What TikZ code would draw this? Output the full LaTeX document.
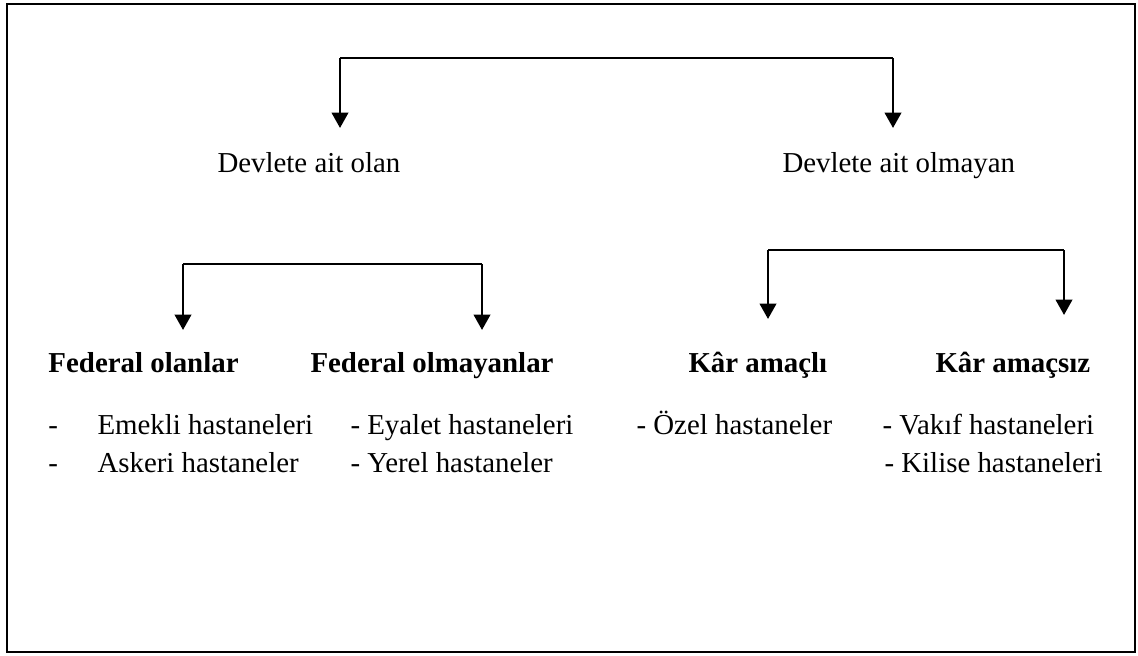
\documentclass[tikz,border=0pt]{standalone}
\usepackage{fontspec}
\setmainfont{Liberation Serif}
\usetikzlibrary{arrows.meta,positioning}

\begin{document}
\begin{tikzpicture}[x=0.4pt,y=-0.4pt,
  every node/.style={inner sep=0pt,anchor=base west,font=\fontsize{11.55}{14}\selectfont},
  head/.style={font=\fontsize{11.55}{14}\selectfont\bfseries},
  bar/.style={line width=0.6pt},
  down/.style={-{Triangle[width=6.6pt,length=6.2pt]},line width=1.1pt}]

\useasboundingbox (0,0) rectangle (1138,655);

% outer frame
\draw[line width=1pt] (7,4) rectangle (1135,652);

% the three splits: name / left x / right x / bar y / left tip y / right tip y
\foreach \nm/\xa/\xb/\y/\ya/\yb in {top/340/893/58/128/128,
                                   fed/183/482/264/330/330,
                                   kar/768/1064/250/319/315}
{
  \coordinate (\nm-a) at (\xa,\y);
  \coordinate (\nm-b) at (\xb,\y);
  \coordinate (\nm-at) at (\xa,\ya);
  \coordinate (\nm-bt) at (\xb,\yb);
  \draw[bar] (\nm-a) -- (\nm-b);
  \draw[down] (\nm-a) -- (\nm-at);
  \draw[down] (\nm-b) -- (\nm-bt);
}

% first level
\node (devlet) at (217,172) {Devlete ait olan};
\node (ozel) at (782,172) {Devlete ait olmayan};

% second level
\node[head] (federal) at (48,372) {Federal olanlar};
\node[head] (nonfed) at (310,372) {Federal olmayanlar};
\node[head] (kar) at (688,372) {Kâr amaçlı};
\node[head] (nonkar) at (935,372) {Kâr amaçsız};

% hospital types
\node (d1) at (48,434) {-};
\node (d2) at (48,472) {-};
\node (emekli) at (97,434) {Emekli hastaneleri};
\node (askeri) at (97,472) {Askeri hastaneler};
\node (eyalet) at (350,434) {- Eyalet hastaneleri};
\node (yerel) at (350,472) {- Yerel hastaneler};
\node (ozelh) at (636,434) {- Özel hastaneler};
\node (vakif) at (882,434) {- Vakıf hastaneleri};
\node (kilise) at (884,472) {- Kilise hastaneleri};

\end{tikzpicture}
\end{document}
